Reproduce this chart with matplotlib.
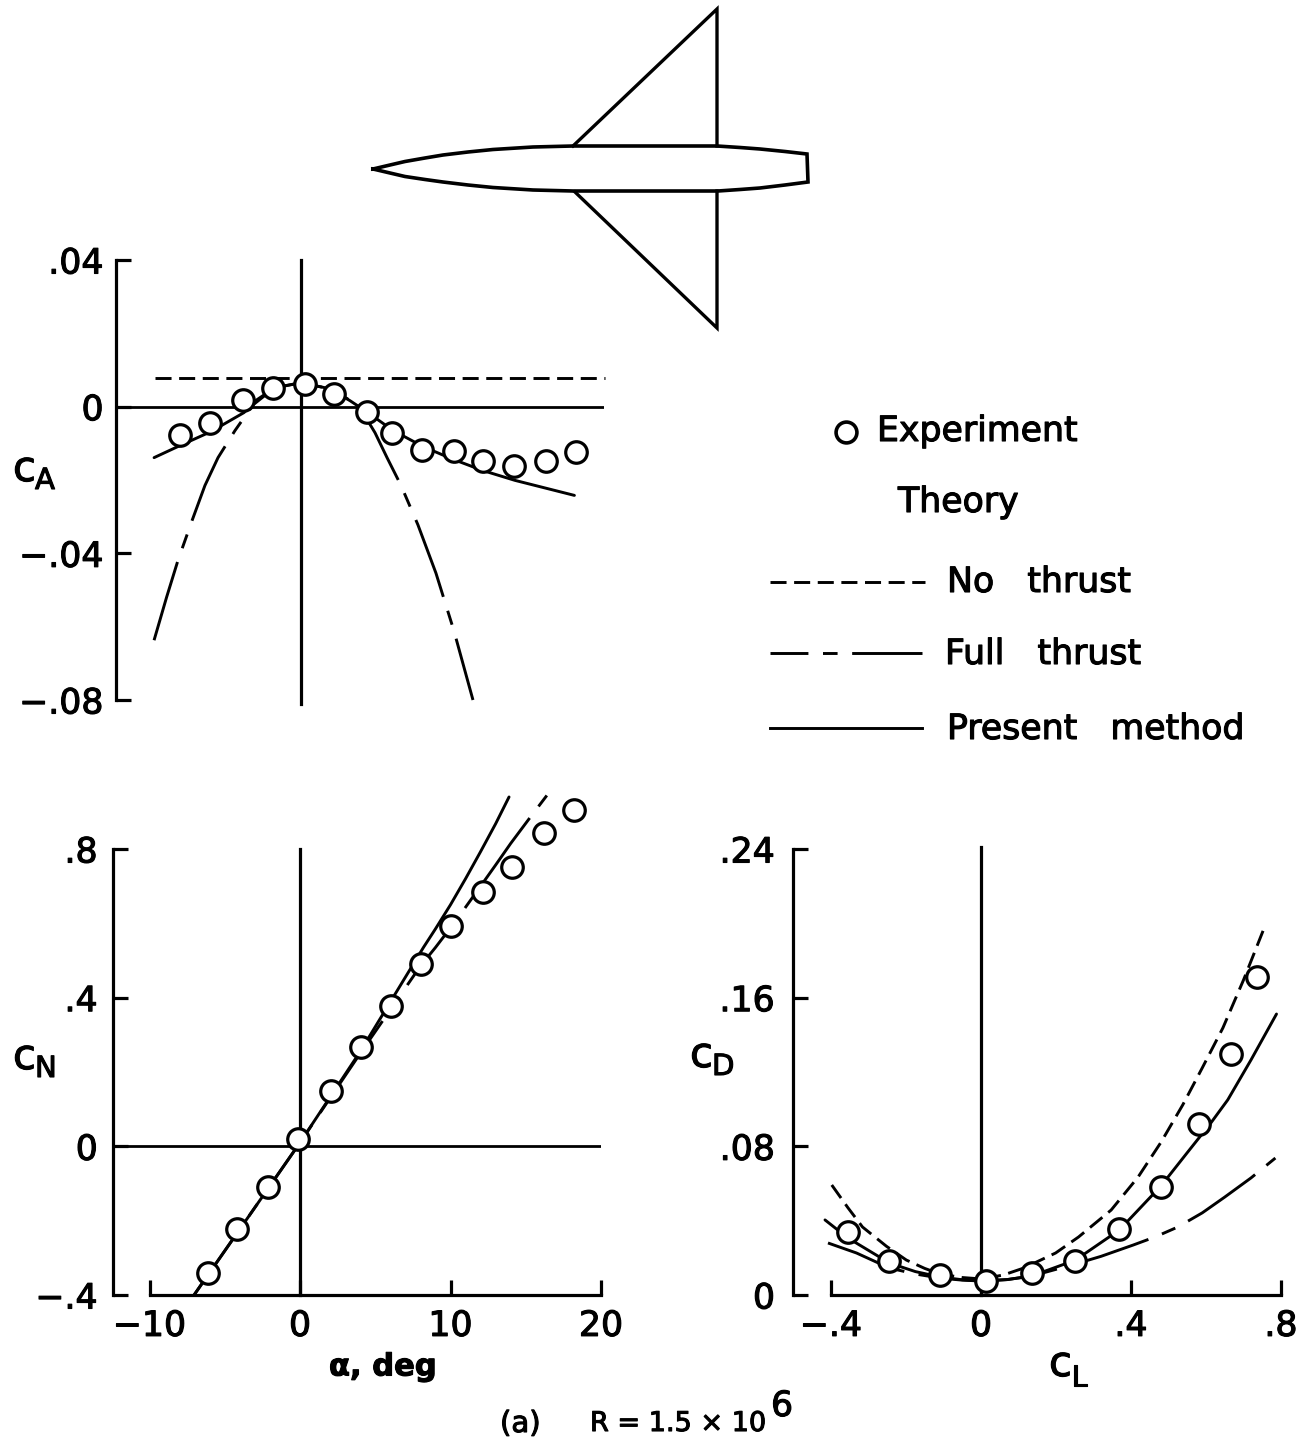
import matplotlib
matplotlib.use("Agg")
import matplotlib.pyplot as plt
from matplotlib.text import Text
from matplotlib.patheffects import withStroke

W, H = 1309, 1441
plt.rcParams['font.family'] = ['DejaVu Sans']

# ---- CA vs alpha
ca_exp_a = [-8.0, -6.0, -3.8, -1.8, 0.3, 2.2, 4.4, 6.1, 8.1, 10.2, 12.1, 14.2, 16.3, 18.3]
ca_exp = [-.0076, -.0044, .0019, .0052, .0063, .0035, -.0014, -.0073, -.0117, -.012, -.0147, -.0161, -.0147, -.0125]
ca_none_a = [-9.7, 20.2]
ca_none = [.0079, .0079]
ca_full_a = [-9.73, -8.9, -8.14, -7.2, -6.35, -5.48, -4.35, -3.15, -2.2, -1.35, 0, 1.96, 3.1, 3.95, 4.95, 5.75, 6.68, 7.8, 9.0, 10.2, 11.46]
ca_full = [-.0637, -.052, -.0419, -.031, -.0215, -.0139, -.0065, .0005, .0036, .0054, .0065, .0049, .0022, -.0003, -.0071, -.0139, -.0215, -.0322, -.0454, -.0612, -.08]
ca_pres_a = [-9.73, -8.0, -5.95, -3.75, -3.0, -1.7, 0, 1.96, 3.3, 4.4, 6.15, 8.15, 10.1, 12.1, 14.25, 18.2]
ca_pres = [-.0139, -.0106, -.0068, -.0016, .0016, .0052, .0065, .0049, .0016, -.0014, -.0065, -.0109, -.0143, -.0174, -.0201, -.0242]
ca_yticks = [.04, 0, -.04, -.08]
ca_ylabels = ['.04', '0', '−.04', '−.08']

# ---- CN vs alpha
cn_exp_a = [-6.1, -4.2, -2.1, -.13, 2.06, 4.05, 6.05, 8.04, 10.03, 12.15, 14.1, 16.2, 18.2]
cn_exp = [-.342, -.223, -.110, .019, .148, .266, .377, .490, .592, .683, .751, .842, .904]
cn_full_a = [-7.04, 0, 4, 8, 9, 10, 10.8, 12, 13, 14.0, 15.2, 16.4]
cn_full = [-.4, .01, .25, .485, .535, .588, .632, .7, .757, .815, .88, .944]
cn_pres_a = [-7.04, 0, 4, 8.2, 9, 10, 11, 12, 13, 13.89]
cn_pres = [-.4, .01, .255, .535, .585, .65, .72, .793, .868, .94]
cn_yticks = [.8, .4, 0, -.4]
cn_ylabels = ['.8', '.4', '0', '−.4']
alpha_ticks = [-10, 0, 10, 20]
alpha_labels = ['−10', '0', '10', '20']

# ---- CD vs CL
cd_exp_l = [-.355, -.244, -.109, .013, .135, .252, .369, .480, .581, .666, .735]
cd_exp = [.0339, .0183, .0108, .0075, .0118, .0183, .0355, .0581, .0920, .1297, .1711]
cd_pres_l = [-.416, -.355, -.244, -.175, -.109, -.05, .003, .07, .135, .252, .369, .48, .55, .613, .658, .72, .788]
cd_pres = [.0404, .0307, .0172, .0126, .0097, .0082, .0075, .0083, .0102, .0188, .035, .0587, .0766, .0926, .105, .1265, .1512]
cd_none_l = [-.398, -.355, -.316, -.252, -.199, -.15, -.109, -.05, .003, .06, .114, .199, .26, .347, .419, .48, .538, .59, .645, .70, .753]
cd_none = [.0592, .047, .0366, .0262, .0188, .0143, .0113, .0094, .0086, .0108, .0145, .0226, .0312, .0457, .0635, .0822, .1023, .1222, .1437, .1695, .1964]
cd_full_l = [-.408, -.332, -.244, -.175, -.109, -.05, .003, .07, .135, .252, .32, .406, .465, .525, .59, .65, .72, .785]
cd_full = [.028, .0226, .0145, .0113, .0091, .008, .0075, .0083, .0102, .0167, .0208, .0269, .0313, .0366, .0442, .0527, .063, .0737]
cd_yticks = [.24, .16, .08, 0]
cd_ylabels = ['.24', '.16', '.08', '0']
cl_ticks = [-.4, 0, .4, .8]
cl_labels = ['−.4', '0', '.4', '.8']

# ---- planform sketch outline
body_x = [373, 390, 405, 425, 443, 468, 493, 533, 573, 717, 740, 760, 785, 807, 808, 785, 760, 740, 718, 573, 533, 493, 468, 443, 425, 405, 390, 373]
body_y = [169, 165, 161.5, 158, 155, 152, 149.5, 147, 146, 146, 147.5, 149, 151.5, 154, 182, 185, 188, 189.5, 191, 191, 190, 187.5, 185, 182, 179.5, 176.5, 173, 169]
wing_top_x = [573, 717, 717]
wing_top_y = [146, 9, 146]
wing_bot_x = [575, 717, 717]
wing_bot_y = [192, 328, 191]

TXT = 25
LW = 2.1
AXLW = 2.3
NONE = (0, (5.5, 2.6))
FULL = (0, (28, 5, 5, 5))
FULL_KEY = (15, (28, 5, 5, 5))
fig = plt.figure(figsize=(W / 100, H / 100), dpi=100)


def box(l, t, r, b):
    return fig.add_axes([l / W, 1 - b / H, (r - l) / W, (b - t) / H])


def txt(x, y, s, size=TXT, **kw):
    kw.setdefault('ha', 'left')
    kw.setdefault('va', 'center')
    fig.text(x / W, 1 - y / H, s, fontsize=size, **kw)


def curve(ax, x, y, ls='-', lw=LW):
    ax.plot(x, y, color='k', lw=lw, ls=ls, clip_on=False, zorder=3,
            solid_capstyle='round', dash_capstyle='butt', solid_joinstyle='round',
            dash_joinstyle='round')


def circles(ax, x, y):
    ax.plot(x, y, 'o', ms=15.5, mfc='w', mec='k', mew=2.3, clip_on=False, zorder=6, ls='none')


def style(ax, xlim, ylim, yticks, ylabels, pad):
    ax.set_xlim(*xlim)
    ax.set_ylim(*ylim)
    ax.patch.set_alpha(0)
    for s in ['top', 'right']:
        ax.spines[s].set_visible(False)
    ax.spines['left'].set_linewidth(AXLW)
    ax.spines['bottom'].set_linewidth(AXLW)
    ax.set_yticks(yticks)
    ax.set_yticklabels(ylabels, fontsize=TXT)
    ax.tick_params(axis='y', direction='in', length=10.5, width=AXLW, pad=pad)
    ax.tick_params(axis='x', direction='in', length=10.5, width=AXLW, pad=10, labelsize=TXT)


# CA panel
ax1 = box(116, 260, 604, 700)
style(ax1, ((116 - 300.5) / 15.05, (604 - 300.5) / 15.05), (-.08, .04), ca_yticks, ca_ylabels, 9)
ax1.spines['bottom'].set_visible(False)
ax1.set_xticks([])
ax1.axhline(0, color='k', lw=AXLW - .3, zorder=2)
ax1.plot([0, 0], [-.081, .04], color='k', lw=AXLW, clip_on=False, zorder=2)
curve(ax1, ca_none_a, ca_none, NONE)
curve(ax1, ca_full_a, ca_full, FULL)
curve(ax1, ca_pres_a, ca_pres)
circles(ax1, ca_exp_a, ca_exp)

# CN panel
ax2 = box(113, 849, 601, 1295)
style(ax2, ((113 - 300) / 15.05, 20), (-.4, .8), cn_yticks, cn_ylabels, 11)
ax2.spines['bottom'].set_bounds(-10, 20)
ax2.set_xticks(alpha_ticks)
ax2.set_xticklabels(alpha_labels)
ax2.axhline(0, color='k', lw=AXLW - .3, zorder=2)
ax2.plot([0, 0], [-.4, .8], color='k', lw=AXLW, clip_on=False, zorder=2)
curve(ax2, cn_full_a, cn_full, FULL)
curve(ax2, cn_pres_a, cn_pres)
circles(ax2, cn_exp_a, cn_exp)

# CD panel
ax3 = box(793, 849, 1281, 1295)
style(ax3, ((793 - 982) / 377, (1281 - 982) / 377), (0, .24), cd_yticks, cd_ylabels, 13)
ax3.spines['bottom'].set_bounds(-.4, .8)
ax3.set_xticks(cl_ticks)
ax3.set_xticklabels(cl_labels)
ax3.plot([0, 0], [0, .241], color='k', lw=AXLW, clip_on=False, zorder=2)
curve(ax3, cd_none_l, cd_none, NONE)
curve(ax3, cd_full_l, cd_full, FULL)
curve(ax3, cd_pres_l, cd_pres)
circles(ax3, cd_exp_l, cd_exp)

# overlay in pixel units for the sketch and legend
ov = fig.add_axes([0, 0, 1, 1], zorder=10)
ov.set_xlim(0, W)
ov.set_ylim(H, 0)
ov.axis('off')
ov.patch.set_alpha(0)
ov.plot(body_x, body_y, color='k', lw=2.6, solid_joinstyle='miter')
ov.plot(wing_top_x, wing_top_y, color='k', lw=2.4, solid_joinstyle='miter')
ov.plot(wing_bot_x, wing_bot_y, color='k', lw=2.4, solid_joinstyle='miter')

# legend
ov.plot([846], [432], 'o', ms=15, mfc='w', mec='k', mew=2.6)
ov.plot([770, 925], [582, 582], color='k', lw=LW, ls=NONE)
ov.plot([770, 922], [653, 653], color='k', lw=LW, ls=FULL_KEY)
ov.plot([770, 922], [728, 728], color='k', lw=LW)
txt(877, 431, 'Experiment')
txt(898, 502, 'Theory')
txt(947, 582, 'No   thrust')
txt(945, 654, 'Full   thrust')
txt(947, 729, 'Present   method')

# axis titles
txt(13, 469, 'c', size=30)
txt(35, 481, 'A', size=21)
txt(13, 1057, 'c', size=30)
txt(35, 1069, 'N', size=21)
txt(690, 1055, 'c', size=30)
txt(712, 1067, 'D', size=21)
txt(1049, 1364, 'c', size=30)
txt(1071, 1378, 'L', size=21)
txt(329, 1367, 'α, deg', size=22, weight='bold')
txt(500, 1424, '(a)', size=21)
txt(590, 1424, 'R = 1.5 × 10', size=19.5)
txt(771, 1406, '6', size=25)

for t in fig.findobj(Text):
    t.set_path_effects([withStroke(linewidth=.8, foreground='k')])

fig.savefig('out.png', dpi=100)
